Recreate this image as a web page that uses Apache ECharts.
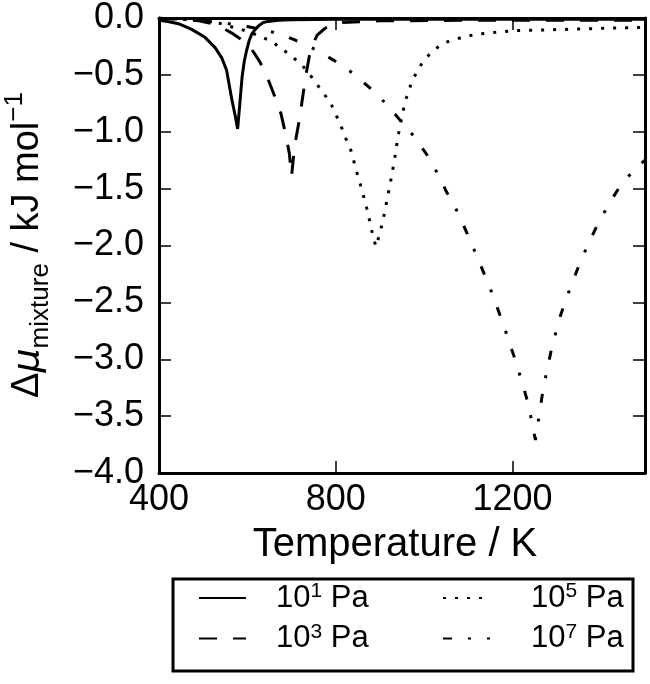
<!DOCTYPE html>
<html><head><meta charset="utf-8">
<script src="https://cdn.jsdelivr.net/npm/echarts@6/dist/echarts.min.js"></script>
<style>html,body{margin:0;padding:0;background:#fff}#c{width:650px;height:684px}</style>
</head><body><div id="c"></div>
<script>
const seriesNames = ['10^1 Pa', '10^3 Pa', '10^5 Pa', '10^7 Pa'];
const exps = ['1', '3', '5', '7'];

// 10^1 Pa (solid)
const t1 = [400, 420, 444, 474, 504, 527, 542, 553, 565, 572, 578, 583, 588, 593, 598, 604, 610, 618, 625, 636, 647, 670, 700, 800, 1000, 1200, 1500];
const v1 = [-0.02, -0.03, -0.05, -0.10, -0.17, -0.26, -0.35, -0.46, -0.72, -0.85, -0.975, -0.75, -0.52, -0.38, -0.29, -0.20, -0.14, -0.10, -0.07, -0.04, -0.03, -0.02, -0.015, -0.01, -0.01, -0.01, -0.01];
// 10^3 Pa (dashed)
const t3 = [400, 450, 490, 520, 545, 568, 583, 598, 614, 629, 646, 663, 676, 686, 695, 700, 705, 710, 716, 722, 728, 734, 740, 748, 758, 776, 795, 815, 900, 1100, 1500];
const v3 = [-0.003, -0.01, -0.025, -0.05, -0.09, -0.14, -0.18, -0.22, -0.30, -0.39, -0.53, -0.70, -0.84, -1.01, -1.19, -1.39, -1.20, -1.06, -0.93, -0.78, -0.62, -0.47, -0.34, -0.23, -0.15, -0.09, -0.055, -0.04, -0.025, -0.02, -0.02];
// 10^5 Pa (dotted)
const t5 = [400, 450, 500, 543, 557, 577, 602, 629, 656, 678, 701, 723, 742, 759, 776, 791, 804, 815, 825, 836, 843, 851, 859, 866, 874, 879, 886, 891, 900, 907, 913, 919, 927, 934, 941, 947, 953, 960, 971, 983, 998, 1017, 1041, 1068, 1096, 1124, 1152, 1182, 1208, 1268, 1351, 1411, 1471, 1500];
const v5 = [-0.003, -0.01, -0.025, -0.05, -0.07, -0.09, -0.12, -0.16, -0.21, -0.27, -0.34, -0.41, -0.50, -0.59, -0.68, -0.77, -0.88, -0.98, -1.08, -1.18, -1.29, -1.40, -1.51, -1.61, -1.73, -1.83, -1.94, -2.01, -1.89, -1.78, -1.66, -1.54, -1.38, -1.22, -1.04, -0.92, -0.81, -0.70, -0.575, -0.475, -0.38, -0.30, -0.225, -0.19, -0.16, -0.14, -0.13, -0.12, -0.11, -0.105, -0.097, -0.09, -0.085, -0.083];
// 10^7 Pa (dash-dot)
const t7 = [400, 450, 500, 550, 600, 630, 659, 685, 706, 750, 795, 837, 876, 913, 946, 977, 1006, 1031, 1051, 1078, 1098, 1118, 1150, 1180, 1210, 1235, 1252, 1270, 1290, 1310, 1330, 1356, 1374, 1392, 1419, 1445, 1479, 1500];
const v7 = [-0.003, -0.01, -0.025, -0.045, -0.075, -0.10, -0.126, -0.16, -0.19, -0.27, -0.37, -0.48, -0.61, -0.75, -0.90, -1.04, -1.20, -1.37, -1.53, -1.72, -1.90, -2.08, -2.38, -2.70, -3.05, -3.38, -3.71, -3.25, -2.88, -2.60, -2.38, -2.12, -1.97, -1.82, -1.63, -1.47, -1.32, -1.25];

const FONT = 'Liberation Sans';
const zip = (t, v) => t.map((x, i) => [x, v[i]]);
const dashTypes = ['solid', [18, 16], [3, 9], [9, 16, 3, 16]];
const allT = [t1, t3, t5, t7], allV = [v1, v3, v5, v7];

const series = seriesNames.map((n, i) => ({
  name: n, type: 'line', data: zip(allT[i], allV[i]),
  showSymbol: false, symbol: 'none', smooth: false, animation: false,
  lineStyle: { color: '#000', width: 3, type: dashTypes[i], cap: 'butt' },
  itemStyle: { color: '#000' }
}));

const legendRich = {
  sp1: { width: 25 }, sp2: { width: 36 },
  b: { fontSize: 31, fontFamily: FONT, color: '#000', lineHeight: 34 },
  sup: { fontSize: 21, fontFamily: FONT, color: '#000', verticalAlign: 'top', lineHeight: 34 }
};
const fmt = sp => name => {
  const i = seriesNames.indexOf(name);
  return '{' + sp + '|}{b|10}{sup|' + exps[i] + '}{b| Pa}';
};

const axCommon = {
  axisLine: { show: true, onZero: false, lineStyle: { color: '#000', width: 3 } },
  axisTick: { show: true, inside: true, length: 12, lineStyle: { color: '#000', width: 1.5 } },
  splitLine: { show: false }
};
const legendCommon = {
  orient: 'vertical', top: 576, itemWidth: 47, itemHeight: 14, itemGap: 8, selectedMode: false,
  itemStyle: { color: 'transparent', borderColor: 'transparent', borderWidth: 0, opacity: 0 },
  textStyle: { rich: legendRich }
};

const chart = echarts.init(document.getElementById('c'), null, { renderer: 'canvas' });
chart.setOption({
  backgroundColor: '#fff',
  animation: false,
  grid: { left: 159, top: 18, width: 486, height: 455 },
  xAxis: [
    Object.assign({}, axCommon, {
      type: 'value', min: 400, max: 1500, interval: 400, position: 'bottom',
      axisLabel: { fontSize: 36, color: '#000', fontFamily: FONT, margin: 9, showMaxLabel: false, formatter: v => String(v) },
      name: 'Temperature / K', nameLocation: 'middle', nameGap: 52,
      nameTextStyle: { fontSize: 40, color: '#000', fontFamily: FONT, padding: [0, 14, 0, 0] }
    }),
    Object.assign({}, axCommon, {
      type: 'value', min: 400, max: 1500, interval: 400, position: 'top', axisLabel: { show: false }
    })
  ],
  yAxis: [
    Object.assign({}, axCommon, {
      type: 'value', min: -4, max: 0, interval: 0.5, position: 'left',
      axisLabel: {
        fontSize: 36, color: '#000', fontFamily: FONT, margin: 15,
        formatter: v => (v < 0 ? '\u2212' : '') + Math.abs(v).toFixed(1)
      }
    }),
    Object.assign({}, axCommon, {
      type: 'value', min: -4, max: 0, interval: 0.5, position: 'right', axisLabel: { show: false }
    })
  ],
  legend: [
    Object.assign({}, legendCommon, { data: [seriesNames[0], seriesNames[1]], left: 193, formatter: fmt('sp1') }),
    Object.assign({}, legendCommon, { data: [seriesNames[2], seriesNames[3]], left: 437, formatter: fmt('sp2') })
  ],
  graphic: [
    {
      type: 'rect', shape: { x: 173, y: 579, width: 460, height: 92 },
      style: { fill: 'none', stroke: '#000', lineWidth: 3 }, z: 10
    },
    {
      type: 'text', x: 28, y: 245, rotation: Math.PI / 2,
      style: {
        text: '{n|\u0394}{mu|\u03bc}{sub|mixture}{n| / kJ mol}{sup|\u22121}',
        align: 'center', verticalAlign: 'middle',
        rich: {
          n: { fontSize: 38, fontFamily: FONT, fill: '#000', lineHeight: 52 },
          mu: { fontSize: 38, fontFamily: 'DejaVu Sans', fontStyle: 'italic', fill: '#000', lineHeight: 52 },
          sub: { fontSize: 26, fontFamily: FONT, fill: '#000', lineHeight: 26, verticalAlign: 'bottom' },
          sup: { fontSize: 26, fontFamily: FONT, fill: '#000', lineHeight: 26, verticalAlign: 'top' }
        }
      }
    }
  ],
  series: series
});
</script></body></html>
